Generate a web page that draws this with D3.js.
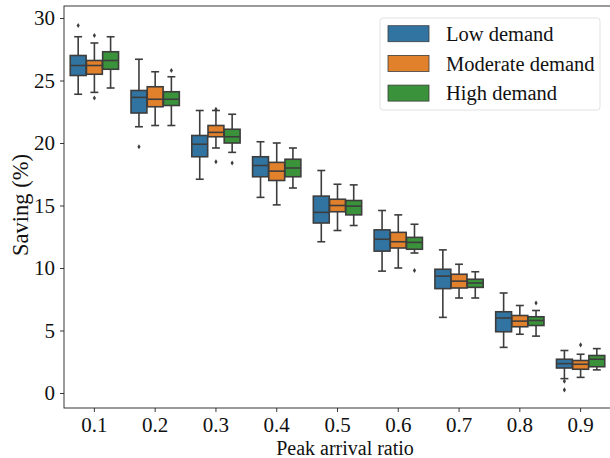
<!DOCTYPE html>
<html><head><meta charset="utf-8">
<script src="https://cdn.jsdelivr.net/npm/d3@7"></script>
<style>body{margin:0;background:#fff}svg{display:block}</style>
</head><body>
<svg id="chart" width="610" height="458"></svg>
<script>
const categories = ["0.1","0.2","0.3","0.4","0.5","0.6","0.7","0.8","0.9"];
const seriesNames = ["Low demand","Moderate demand","High demand"];
const seriesColors = ["#3274a1","#e1812c","#3a923a"];
// [whiskerLow, q1, median, q3, whiskerHigh]
const lowStats = [
  [23.9,25.4,26.2,27.0,28.5],[21.3,22.4,23.65,24.2,26.7],[17.1,18.9,19.9,20.6,22.6],
  [15.65,17.3,18.2,18.9,20.1],[12.1,13.6,14.45,15.75,17.8],[9.75,11.35,12.3,13.05,14.6],
  [6.05,8.35,9.35,9.9,11.45],[3.65,4.9,6.0,6.5,8.0],[1.15,2.0,2.35,2.7,3.4]];
const moderateStats = [
  [24.05,25.5,26.2,26.6,28.0],[21.4,22.9,23.5,24.5,25.7],[19.6,20.5,20.85,21.4,22.6],
  [15.05,17.0,17.75,18.45,20.0],[13.0,14.5,15.0,15.5,16.7],[10.0,11.6,12.1,12.85,14.25],
  [7.6,8.4,8.95,9.5,10.3],[4.7,5.3,5.75,6.2,7.0],[1.25,1.9,2.3,2.6,3.1]];
const highStats = [
  [24.4,25.9,26.6,27.3,28.5],[21.4,23.0,23.5,24.1,25.3],[19.25,20.0,20.5,21.1,22.3],
  [16.4,17.3,18.0,18.7,19.6],[13.4,14.25,14.95,15.4,16.65],[11.2,11.5,12.05,12.45,13.5],
  [7.6,8.45,8.8,9.1,9.7],[4.55,5.4,5.8,6.1,6.6],[1.85,2.1,2.7,3.0,3.55]];
const lowOutliers = [[0,29.4],[1,19.7],[8,0.95],[8,0.25]];
const moderateOutliers = [[0,28.6],[0,23.6],[2,22.7],[2,18.5],[8,3.85]];
const highOutliers = [[1,25.8],[2,18.4],[5,9.8],[7,7.2]];
const yTicks = [0,5,10,15,20,25,30];
const xLabel = "Peak arrival ratio";
const yLabel = "Saving (%)";

const allStats = [lowStats, moderateStats, highStats];
const allOutliers = [lowOutliers, moderateOutliers, highOutliers];

const svg = d3.select("#chart");
const m = {left:64, right:-1, top:6, bottom:50};
const W = 610, H = 458;
const x = d3.scaleBand().domain(categories).range([m.left, W - m.right]).paddingInner(0).paddingOuter(0);
const y = d3.scaleLinear().domain([-1.2, 30.96]).range([H - m.bottom, m.top]);
const hueScale = d3.scaleBand().domain(seriesNames).range([0.1*x.bandwidth(), 0.9*x.bandwidth()]);
const boxW = hueScale.bandwidth()*0.98;
const lineCol = "#3d3d3d";
const font = "Liberation Serif, Times New Roman, serif";

// boxes
seriesNames.forEach((name, si) => {
  const g = svg.append("g");
  const stats = allStats[si];
  stats.forEach((s, ci) => {
    const cx = x(categories[ci]) + hueScale(name) + hueScale.bandwidth()/2;
    const [wl, q1, md, q3, wh] = s;
    g.append("line").attr("x1",cx).attr("x2",cx).attr("y1",y(q3)).attr("y2",y(wh)).attr("stroke",lineCol).attr("stroke-width",1.6);
    g.append("line").attr("x1",cx).attr("x2",cx).attr("y1",y(q1)).attr("y2",y(wl)).attr("stroke",lineCol).attr("stroke-width",1.6);
    g.append("line").attr("x1",cx-boxW/4).attr("x2",cx+boxW/4).attr("y1",y(wh)).attr("y2",y(wh)).attr("stroke",lineCol).attr("stroke-width",1.6);
    g.append("line").attr("x1",cx-boxW/4).attr("x2",cx+boxW/4).attr("y1",y(wl)).attr("y2",y(wl)).attr("stroke",lineCol).attr("stroke-width",1.6);
    g.append("rect").attr("x",cx-boxW/2).attr("width",boxW).attr("y",y(q3)).attr("height",y(q1)-y(q3))
      .attr("fill",seriesColors[si]).attr("stroke",lineCol).attr("stroke-width",1.6);
    g.append("line").attr("x1",cx-boxW/2).attr("x2",cx+boxW/2).attr("y1",y(md)).attr("y2",y(md)).attr("stroke",lineCol).attr("stroke-width",1.6);
  });
  allOutliers[si].forEach(([ci, v]) => {
    const cx = x(categories[ci]) + hueScale(name) + hueScale.bandwidth()/2;
    const cy = y(v);
    g.append("path").attr("d",`M${cx},${cy-2.6}L${cx+1.6},${cy}L${cx},${cy+2.6}L${cx-1.6},${cy}Z`).attr("fill",lineCol);
  });
});

// axes
const xAxis = svg.append("g").attr("transform",`translate(0,${H-m.bottom})`)
  .call(d3.axisBottom(x).tickSize(4).tickSizeOuter(0));
const yAxis = svg.append("g").attr("transform",`translate(${m.left},0)`)
  .call(d3.axisLeft(y).tickValues(yTicks).tickSize(4).tickSizeOuter(0));
[xAxis, yAxis].forEach(a => {
  a.select(".domain").remove();
  a.selectAll("line").attr("stroke","#222").attr("stroke-width",0.9);
  a.selectAll("text").attr("font-family",font).attr("font-size",21).attr("fill","#111");
});
xAxis.selectAll("text").attr("dy","0.82em");
yAxis.selectAll("text").attr("dx","-0.1em");

// frame
svg.append("rect").attr("x",m.left).attr("y",m.top).attr("width",W-m.right-m.left).attr("height",H-m.bottom-m.top)
  .attr("fill","none").attr("stroke","#222").attr("stroke-width",0.9);

svg.append("text").attr("x",345).attr("y",455).attr("text-anchor","middle")
  .attr("font-family",font).attr("font-size",20).attr("fill","#111").text(xLabel);
svg.append("text").attr("transform","translate(28,205) rotate(-90)").attr("text-anchor","middle")
  .attr("font-family",font).attr("font-size",22.5).attr("fill","#111").text(yLabel);

// legend
const lg = svg.append("g");
lg.append("rect").attr("x",380).attr("y",18).attr("width",220).attr("height",92).attr("rx",3)
  .attr("fill","#fff").attr("fill-opacity",0.8).attr("stroke","#dedede").attr("stroke-width",0.9);
seriesNames.forEach((name, i) => {
  const cy = 33.7 + i*29.7;
  lg.append("rect").attr("x",388).attr("y",cy-8).attr("width",41).attr("height",16)
    .attr("fill",seriesColors[i]).attr("stroke",lineCol).attr("stroke-width",0.8);
  lg.append("text").attr("x",446).attr("y",cy).attr("dy","0.35em").attr("font-family",font)
    .attr("font-size",20.5).attr("fill","#111").text(name);
});
</script>
</body></html>
